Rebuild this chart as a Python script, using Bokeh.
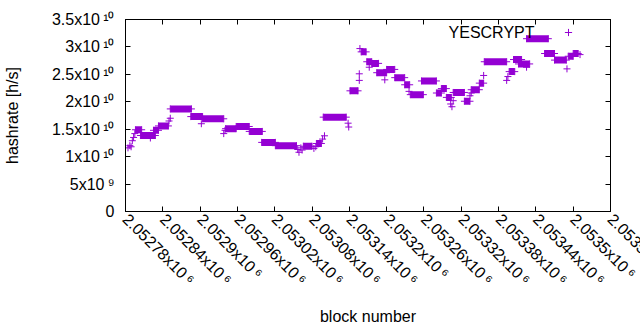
import math
from bokeh.plotting import figure
from bokeh.models import (Range1d, FixedTicker, LinearAxis, Legend, LegendItem,
                          ColumnDataSource, Label)
from bokeh.embed import file_html
from bokeh.resources import INLINE

# ---------------- data ----------------
# constant-hashrate runs: first block, last block, hashrate [h/s]
run_start = [2052796, 2052804, 2052825, 2052833, 2052852, 2052885, 2052904,
             2052941, 2052958, 2052979, 2052999, 2053021, 2053066, 2053087,
             2053098, 2053141, 2053159, 2053168, 2053176, 2053184, 2053200,
             2053213, 2053229, 2053238, 2053256, 2053280, 2053288, 2053296,
             2053307, 2053325, 2053336, 2053349, 2053357, 2053397, 2053404,
             2053412, 2053425, 2053454, 2053470, 2053492, 2053500]
run_end = [2052806, 2052828, 2052833, 2052849, 2052886, 2052904, 2052938,
           2052958, 2052979, 2053000, 2053021, 2053055, 2053080, 2053095,
           2053135, 2053154, 2053167, 2053176, 2053187, 2053200, 2053213,
           2053229, 2053237, 2053259, 2053280, 2053288, 2053296, 2053304,
           2053325, 2053334, 2053349, 2053356, 2053393, 2053406, 2053417,
           2053430, 2053460, 2053470, 2053489, 2053500, 2053508]
run_value = [1.49e10, 1.385e10, 1.48e10, 1.56e10, 1.87e10, 1.73e10, 1.69e10,
             1.51e10, 1.55e10, 1.46e10, 1.26e10, 1.20e10, 1.19e10, 1.24e10,
             1.72e10, 2.20e10, 2.91e10, 2.73e10, 2.70e10, 2.53e10, 2.59e10,
             2.44e10, 2.31e10, 2.13e10, 2.38e10, 2.16e10, 2.24e10, 2.08e10,
             2.17e10, 2.01e10, 2.22e10, 2.34e10, 2.73e10, 2.55e10, 2.77e10,
             2.69e10, 3.15e10, 2.88e10, 2.76e10, 2.83e10, 2.88e10]

# isolated blocks
single_block = [2052784, 2052787, 2052789, 2052791, 2052793, 2052795,
                2052820, 2052850, 2052852, 2052902, 2052938, 2052940,
                2053057, 2053059, 2053062, 2053064, 2053083, 2053086,
                2053097, 2053100, 2053138, 2053139, 2053156, 2053156,
                2053157, 2053172, 2053197, 2053236, 2053303, 2053305,
                2053307, 2053334, 2053336, 2053356, 2053393, 2053395,
                2053425, 2053490, 2053511]
single_value = [1.16e10, 1.20e10, 1.18e10, 1.29e10, 1.35e10, 1.42e10,
                1.34e10, 1.65e10, 1.70e10, 1.60e10, 1.42e10, 1.48e10,
                1.13e10, 1.08e10, 1.16e10, 1.12e10, 1.15e10, 1.18e10,
                1.32e10, 1.38e10, 1.61e10, 1.54e10, 2.39e10, 2.51e10,
                2.97e10, 2.63e10, 2.40e10, 2.19e10, 1.96e10, 1.91e10,
                2.02e10, 2.11e10, 2.16e10, 2.48e10, 2.39e10, 2.46e10,
                2.63e10, 2.60e10, 2.86e10]

series_name = "YESCRYPT"

x_tick_values = [2052780, 2052840, 2052900, 2052960, 2053020, 2053080, 2053140,
                 2053200, 2053260, 2053320, 2053380, 2053440, 2053500, 2053560]
x_tick_labels = ["2.05278x10\u2009\u2076", "2.05284x10\u2009\u2076",
                 "2.0529x10\u2009\u2076", "2.05296x10\u2009\u2076",
                 "2.05302x10\u2009\u2076", "2.05308x10\u2009\u2076",
                 "2.05314x10\u2009\u2076", "2.0532x10\u2009\u2076",
                 "2.05326x10\u2009\u2076", "2.05332x10\u2009\u2076",
                 "2.05338x10\u2009\u2076", "2.05344x10\u2009\u2076",
                 "2.0535x10\u2009\u2076", "2.05356x10\u2009\u2076"]
y_tick_values = [0, 5000000000, 10000000000, 15000000000, 20000000000,
                 25000000000, 30000000000, 35000000000]
y_tick_labels = ["0", "5x10\u2009\u2079", "1x10\u2009\u00b9\u2070",
                 "1.5x10\u2009\u00b9\u2070", "2x10\u2009\u00b9\u2070",
                 "2.5x10\u2009\u00b9\u2070", "3x10\u2009\u00b9\u2070",
                 "3.5x10\u2009\u00b9\u2070"]

x_min, x_max = 2052780, 2053560
y_min, y_max = 0, 3.5e10

# ---------------- styling ----------------
FONT = "Liberation Sans"
FS = "16px"
PURPLE = "#9400D3"
LABEL_ANGLE = -math.pi / 4
LABEL_STANDOFF = 5

p = figure(frame_width=485, frame_height=192,
           x_range=Range1d(x_min, x_max), y_range=Range1d(y_min, y_max),
           output_backend="svg", toolbar_location=None,
           min_border_left=124, min_border_right=31,
           min_border_top=19, min_border_bottom=119)
p.xgrid.visible = False
p.ygrid.visible = False
p.outline_line_color = "black"
p.outline_line_width = 1
p.background_fill_color = "white"
p.border_fill_color = "white"

# runs drawn as solid bars (overlapping markers) plus end markers
run_src = ColumnDataSource(dict(
    mid=[(a + b) / 2 for a, b in zip(run_start, run_end)],
    w=[b - a for a, b in zip(run_start, run_end)],
    v=run_value))
p.rect(x="mid", y="v", width="w", height=7, height_units="screen",
       source=run_src, fill_color=PURPLE, line_color=None)

end_src = ColumnDataSource(dict(b=run_start + run_end, v=run_value + run_value))
p.scatter(x="b", y="v", source=end_src, marker="cross", size=7,
          line_color=PURPLE, line_width=1)

single_src = ColumnDataSource(dict(b=single_block, v=single_value))
r_single = p.scatter(x="b", y="v", source=single_src, marker="cross", size=7,
                     line_color=PURPLE, line_width=1)

# axes
# the last label runs past the window edge (as in the reference); it is drawn
# as a rotated annotation at its tick so that it is cut off, not pushed inward
overrides = dict(zip(x_tick_values, x_tick_labels))
overrides[x_tick_values[-1]] = ""
xa = p.xaxis[0]
xa.ticker = FixedTicker(ticks=x_tick_values)
xa.major_label_overrides = overrides
xa.major_label_orientation = LABEL_ANGLE
xa.major_tick_in = 5
xa.major_tick_out = 0
xa.minor_tick_line_color = None
xa.major_label_standoff = LABEL_STANDOFF
xa.major_label_text_font = FONT
xa.major_label_text_font_size = FS
xa.major_label_text_color = "black"
xa.axis_label = "block number"
xa.axis_label_text_font = FONT
xa.axis_label_text_font_size = FS
xa.axis_label_text_font_style = "normal"
xa.axis_label_text_color = "black"
xa.axis_label_standoff = 10
xa.axis_line_color = "black"

last_label = Label(x=x_tick_values[-1], y=y_min, y_offset=-LABEL_STANDOFF,
                   text=x_tick_labels[-1], angle=LABEL_ANGLE,
                   text_align="left", text_baseline="middle",
                   text_font=FONT, text_font_size=FS, text_color="black")
p.add_layout(last_label, "below")

ya = p.yaxis[0]
ya.ticker = FixedTicker(ticks=y_tick_values)
ya.major_label_overrides = dict(zip(y_tick_values, y_tick_labels))
ya.major_tick_in = 5
ya.major_tick_out = 0
ya.minor_tick_line_color = None
ya.major_label_standoff = 11
ya.major_label_text_font = FONT
ya.major_label_text_font_size = FS
ya.major_label_text_color = "black"
ya.axis_label = "hashrate [h/s]"
ya.axis_label_text_font = FONT
ya.axis_label_text_font_size = FS
ya.axis_label_text_font_style = "normal"
ya.axis_label_text_color = "black"
ya.axis_label_standoff = 28
ya.axis_line_color = "black"

# mirrored ticks (top and right)
top = LinearAxis(ticker=FixedTicker(ticks=x_tick_values),
                 major_label_overrides={t: "" for t in x_tick_values},
                 major_label_text_font_size="0px", major_label_standoff=0,
                 major_tick_in=5, major_tick_out=0,
                 minor_tick_line_color=None, axis_line_color="black")
p.add_layout(top, "above")
right = LinearAxis(ticker=FixedTicker(ticks=y_tick_values),
                   major_label_overrides={t: "" for t in y_tick_values},
                   major_label_text_font_size="0px", major_label_standoff=0,
                   major_tick_in=5, major_tick_out=0,
                   minor_tick_line_color=None, axis_line_color="black")
p.add_layout(right, "right")

# key: text (right aligned) followed by the sample marker, gnuplot style
key_text = Label(x=409, y=179, x_units="screen", y_units="screen",
                 text=series_name, text_align="right", text_baseline="middle",
                 text_font=FONT, text_font_size=FS, text_color="black")
p.add_layout(key_text)
legend = Legend(items=[LegendItem(label="", renderers=[r_single])],
                location=(434, 170), padding=0, margin=0, spacing=0,
                glyph_width=18, glyph_height=18, label_height=18,
                label_width=0, label_standoff=0,
                border_line_color=None, background_fill_alpha=0)
p.add_layout(legend)

open("out.html", "w").write(file_html(p, INLINE))
